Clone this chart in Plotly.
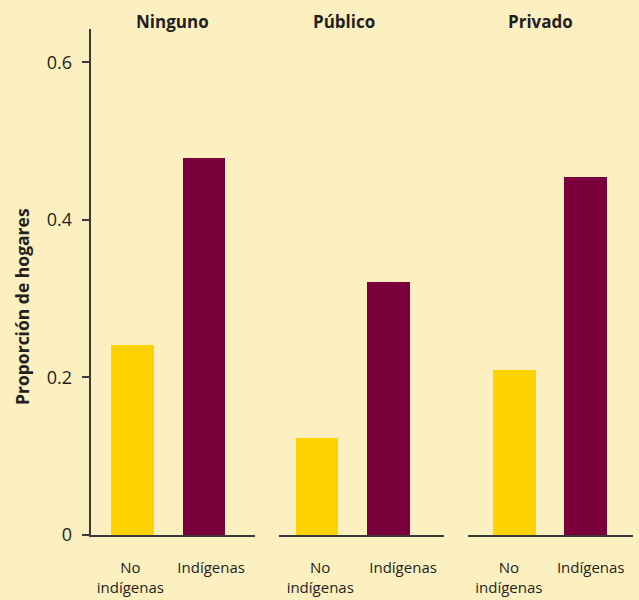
import plotly.graph_objects as go

categories = ["Ninguno", "Público", "Privado"]
group_labels = ["No<br>indígenas", "Indígenas"]
no_indigenas = [0.241, 0.123, 0.2095]
indigenas = [0.479, 0.321, 0.455]
y_tickvals = [0, 0.2, 0.4, 0.6]
y_ticktext = ["0", "0.2", "0.4", "0.6"]

BG = "#FDF0C0"
YELLOW = "#FFD200"
MAROON = "#7A003C"
TXT = "#231F20"
LINE = "#3a3a3a"
FONT = "Open Sans"

W, H = 639, 600
panel_px = [(90.7, 255.0), (279.3, 443.7), (468.3, 632.7)]
x_ranges = [(-0.587, 1.723), (-0.535, 1.775), (-0.65, 1.66)]
# label placement (in category units) relative to bar positions 0 and 1
label_shift = [(-0.03, 0.106), (0.04, 0.204), (-0.08, 0.07)]
title_px = [172, 344, 540]
ydom = [1 - 535 / H, 1 - 29 / H]
yrange = [0, 0.6425]

fig = go.Figure()
layout = dict(
    width=W, height=H, paper_bgcolor=BG, plot_bgcolor=BG,
    margin=dict(l=0, r=0, t=0, b=0, autoexpand=False), showlegend=False,
    font=dict(family=FONT, color=TXT), bargap=0,
)
annotations = []
for i, cat in enumerate(categories):
    sfx = "" if i == 0 else str(i + 1)
    fig.add_trace(go.Bar(
        x=[0, 1], y=[no_indigenas[i], indigenas[i]], width=0.6,
        marker=dict(color=[YELLOW, MAROON], line=dict(width=0)),
        xaxis="x" + sfx, yaxis="y" + sfx, hoverinfo="skip",
    ))
    x0, x1 = panel_px[i]
    s0, s1 = label_shift[i]
    layout["xaxis" + sfx] = dict(
        domain=[x0 / W, x1 / W], range=list(x_ranges[i]),
        tickmode="array", tickvals=[0 + s0, 1 + s1], ticktext=group_labels,
        showline=True, linecolor=LINE, linewidth=2,
        ticks="", showgrid=False, zeroline=False, automargin=False,
        tickfont=dict(size=15, color=TXT, family=FONT),
        ticklabelstandoff=18, anchor="y" + sfx, fixedrange=True,
    )
    ycfg = dict(domain=ydom, range=yrange, showgrid=False, zeroline=False,
                anchor="x" + sfx, fixedrange=True, automargin=False)
    if i == 0:
        ycfg.update(showline=True, linecolor=LINE, linewidth=2,
                    ticks="outside", ticklen=7, tickwidth=2, tickcolor=LINE,
                    tickvals=y_tickvals, ticktext=y_ticktext,
                    tickfont=dict(size=18, color=TXT, family=FONT),
                    ticklabelstandoff=6)
    else:
        ycfg.update(visible=False)
    layout["yaxis" + sfx] = ycfg
    annotations.append(dict(
        text="<b>%s</b>" % cat, x=title_px[i] / W, y=1 - 22 / H,
        xref="paper", yref="paper", xanchor="center", yanchor="middle",
        showarrow=False, font=dict(size=17, color=TXT, family=FONT),
    ))

annotations.append(dict(
    text="<b>Proporción de hogares</b>", x=22 / W, y=1 - 307 / H,
    xref="paper", yref="paper", xanchor="center", yanchor="middle",
    textangle=-90, showarrow=False, font=dict(size=17.5, color=TXT, family=FONT),
))
layout["annotations"] = annotations
fig.update_layout(**layout)
fig.write_html(
    "out.html",
    config={"displayModeBar": False},
    post_script="document.body.style.margin='0';document.body.style.overflow='hidden';",
)
